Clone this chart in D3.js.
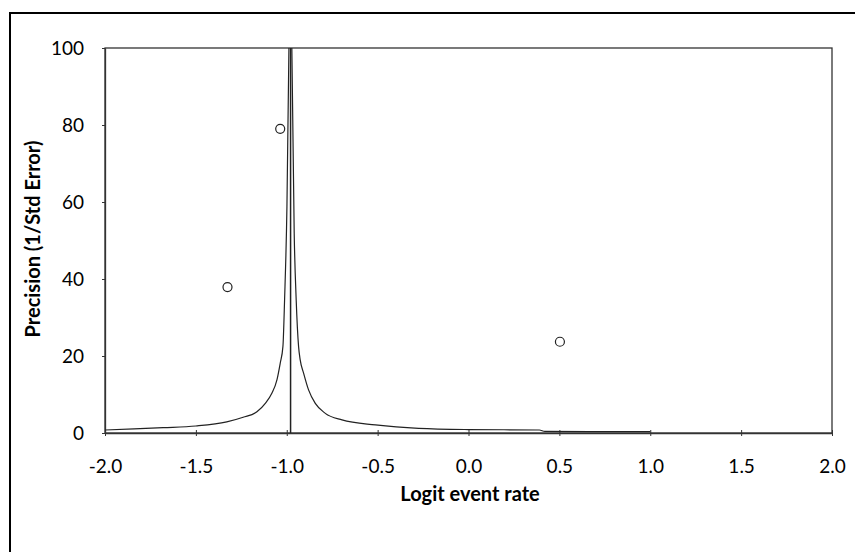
<!DOCTYPE html>
<html><head><meta charset="utf-8">
<script src="https://cdn.jsdelivr.net/npm/d3@7"></script>
<style>
html,body{margin:0;padding:0;background:#fff;}
svg{display:block;}
text{font-family:Lato,"Open Sans",sans-serif;fill:#000;}
</style></head>
<body>
<svg id="chart" width="855" height="552"></svg>
<script>
// ---- data ----
const xTicks = [-2.0, -1.5, -1.0, -0.5, 0.0, 0.5, 1.0, 1.5, 2.0];
const yTicks = [0, 20, 40, 60, 80, 100];
const studyX = [-1.036, -1.326, 0.503];
const studyY = [79.0, 37.9, 23.7];
const meanEffect = -0.979;
// funnel limits, [logit, precision]
const funnelLeft = [[-2.0,0.78],[-1.84,1.05],[-1.68,1.38],[-1.5,1.82],[-1.33,2.9],[-1.24,4.1],[-1.164,5.5],[-1.118,7.7],[-1.082,10.3],[-1.054,13.8],[-1.036,18.1],[-1.021,22.5],[-1.012,34.5],[-0.999,58.8],[-0.988,100]];
const funnelRight = [[-0.972,100],[-0.959,51.9],[-0.948,34.5],[-0.935,22.5],[-0.926,19],[-0.907,15.5],[-0.88,11.2],[-0.843,7.7],[-0.788,5.1],[-0.696,3.4],[-0.512,2.1],[-0.274,1.2],[0.0,0.9],[0.39,0.78],[0.42,0.4],[1.0,0.34]];
const xTitle = "Logit event rate";
const yTitle = "Precision (1/Std Error)";

const svg = d3.select("#chart");
// outer frame (left/top visible)
svg.append("rect").attr("x",10).attr("y",13).attr("width",900).attr("height",600)
  .attr("fill","none").attr("stroke","#000").attr("stroke-width",2);

const L=105, R=832, T=48, B=433;
const x = d3.scaleLinear().domain([-2,2]).range([L,R]);
const y = d3.scaleLinear().domain([0,100]).range([B,T]);

// plot frame
svg.append("rect").attr("x",L).attr("y",T).attr("width",R-L).attr("height",B-T)
  .attr("fill","none").attr("stroke","#333").attr("stroke-width",1.3);

// x axis
const xa = svg.append("g").attr("transform",`translate(0,${B})`)
  .call(d3.axisBottom(x).tickValues(xTicks).tickSizeInner(3).tickSizeOuter(0).tickPadding(24));
xa.select(".domain").attr("stroke","#333").attr("stroke-width",1.3);
xa.selectAll(".tick line").attr("stroke","#333").attr("y1",-3).attr("y2",3);
xa.selectAll("text").attr("font-size",19).attr("font-family","Lato, sans-serif").attr("fill","#000")
  .text(d=>d3.format(".1f")(d).replace("\u2212","-"));

// y axis
const ya = svg.append("g").attr("transform",`translate(${L},0)`)
  .call(d3.axisLeft(y).tickValues(yTicks).tickSizeInner(3).tickSizeOuter(0).tickPadding(18));
ya.select(".domain").attr("stroke","#333").attr("stroke-width",1.3);
ya.selectAll(".tick line").attr("stroke","#333");
ya.selectAll("text").attr("font-size",19).attr("font-family","Lato, sans-serif").attr("fill","#000");

// titles
svg.append("text").attr("x",470).attr("y",501).attr("text-anchor","middle")
  .attr("font-size",20).attr("font-weight","bold").text(xTitle);
svg.append("text").attr("transform","translate(40,239) rotate(-90)").attr("text-anchor","middle")
  .attr("font-size",20).attr("font-weight","bold").text(yTitle);

// funnel
const line = d3.line().x(d=>x(d[0])).y(d=>y(d[1])).curve(d3.curveMonotoneX);
svg.append("path").datum(funnelLeft).attr("d",line).attr("fill","none").attr("stroke","#222").attr("stroke-width",1.2);
svg.append("path").datum(funnelRight).attr("d",line).attr("fill","none").attr("stroke","#222").attr("stroke-width",1.2);

// mean line
svg.append("line").attr("x1",x(meanEffect)).attr("x2",x(meanEffect)).attr("y1",y(0)).attr("y2",y(100))
  .attr("stroke","#222").attr("stroke-width",1.5);

// studies
svg.selectAll("circle.study").data(studyX.map((v,i)=>[v,studyY[i]])).enter().append("circle")
  .attr("class","study").attr("cx",d=>x(d[0])).attr("cy",d=>y(d[1])).attr("r",4.5)
  .attr("fill","#fff").attr("stroke","#222").attr("stroke-width",1.2);
</script>
</body></html>
